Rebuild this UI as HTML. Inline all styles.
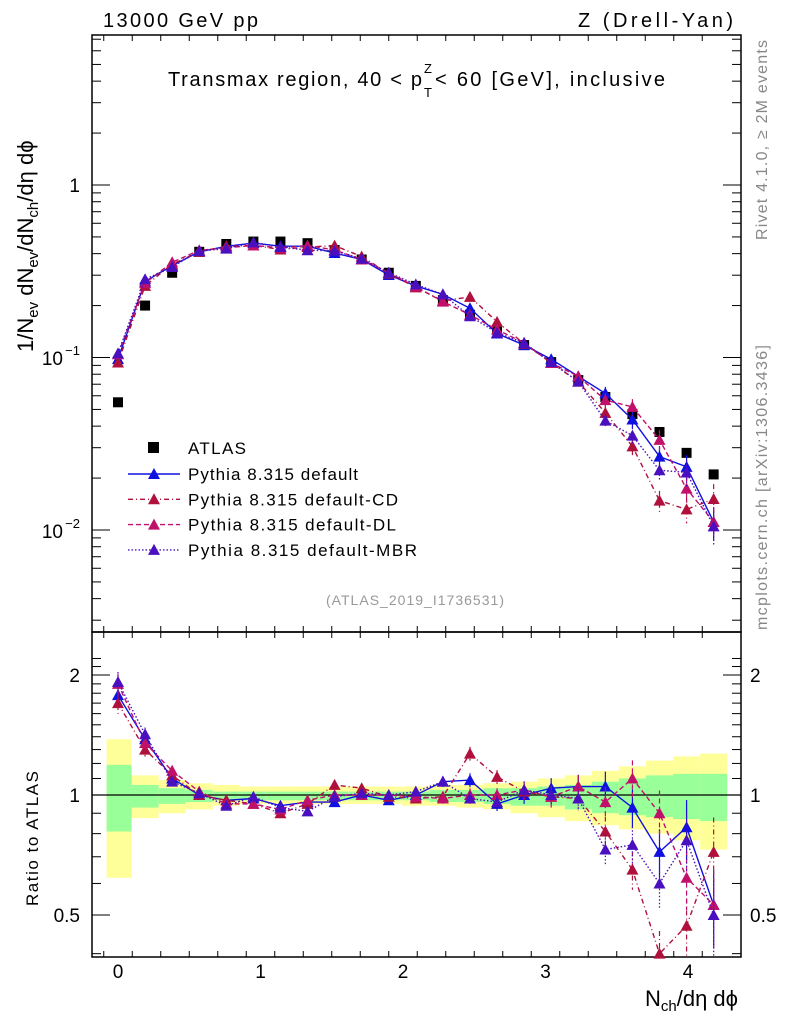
<!DOCTYPE html>
<html><head><meta charset="utf-8"><style>
body{margin:0;background:#fff;}
svg{font-family:"Liberation Sans",sans-serif;}
</style></head><body>
<svg id="c" width="786" height="1024" xmlns="http://www.w3.org/2000/svg"></svg>
<script>
const xs=[0,0.19,0.38,0.57,0.76,0.95,1.14,1.33,1.52,1.71,1.9,2.09,2.28,2.47,2.66,2.85,3.04,3.23,3.42,3.61,3.8,3.99,4.18];
const atlas=[0.055,0.20,0.31,0.41,0.455,0.47,0.47,0.46,0.42,0.37,0.31,0.26,0.215,0.177,0.145,0.118,0.094,0.074,0.059,0.047,0.037,0.028,0.021];
const rDefault=[1.78,1.38,1.1,1.0,0.97,0.98,0.94,0.96,0.96,1.0,0.97,1.0,1.08,1.09,0.95,1.0,1.04,1.05,1.05,0.93,0.72,0.83,0.53];
const rCD=[1.7,1.3,1.12,1.0,0.97,0.95,0.9,0.95,1.06,1.04,0.99,0.98,0.99,1.27,1.11,1.02,0.99,0.98,0.81,0.65,0.4,0.47,0.72];
const rDL=[1.9,1.35,1.15,1.02,0.95,0.95,0.92,0.97,1.0,1.0,1.0,0.99,0.98,1.0,1.0,1.03,0.99,1.05,0.96,1.1,0.9,0.62,0.53];
const rMBR=[1.92,1.42,1.08,1.01,0.94,0.99,0.93,0.91,0.99,1.01,1.0,1.02,1.08,0.98,0.96,1.03,1.0,0.98,0.73,0.75,0.6,0.77,0.5];
const rErr=[0.06,0.04,0.03,0.02,0.02,0.02,0.02,0.02,0.02,0.02,0.02,0.03,0.03,0.04,0.04,0.05,0.06,0.07,0.09,0.11,0.14,0.17,0.22];
const yUp=[1.38,1.12,1.09,1.07,1.06,1.05,1.05,1.05,1.05,1.05,1.05,1.05,1.06,1.06,1.07,1.08,1.1,1.12,1.15,1.18,1.22,1.25,1.27];
const yDn=[0.62,0.875,0.9,0.92,0.94,0.95,0.95,0.95,0.95,0.95,0.95,0.94,0.94,0.93,0.92,0.9,0.88,0.86,0.84,0.82,0.8,0.77,0.73];
const gUp=[1.19,1.06,1.04,1.03,1.02,1.02,1.02,1.02,1.02,1.02,1.02,1.02,1.03,1.03,1.04,1.04,1.05,1.06,1.08,1.1,1.12,1.13,1.13];
const gDn=[0.81,0.93,0.95,0.96,0.97,0.97,0.97,0.97,0.97,0.97,0.97,0.97,0.96,0.96,0.95,0.94,0.94,0.92,0.9,0.89,0.88,0.87,0.86];
const xTicks=[0,1,2,3,4];
const series=[
 {name:'Pythia 8.315 default',r:rDefault,c:'#1010e0',d:'',id:'default',w:170},
 {name:'Pythia 8.315 default-CD',r:rCD,c:'#b0103c',d:'5,3,1,3',id:'cd',w:210},
 {name:'Pythia 8.315 default-DL',r:rDL,c:'#c0106a',d:'5,3',id:'dl',w:208},
 {name:'Pythia 8.315 default-MBR',r:rMBR,c:'#4a10c0',d:'1.5,2',id:'mbr',w:229}];

const svg=document.getElementById('c');
const NS='http://www.w3.org/2000/svg';
const X=v=>118+142.5*v;
const Y=v=>185-172.5*Math.log10(v);
const R=v=>795-398.7*Math.log10(v);
const L=35,Rt=741,T=35,B=632,B2=957;
function el(t,a,p){const e=document.createElementNS(NS,t);for(const k in a)e.setAttribute(k,a[k]);(p||svg).appendChild(e);return e;}
function txt(s,x,y,a,p){const e=el('text',Object.assign({x:x,y:y},a),p);e.textContent=s;return e;}

const bandG=el('g',{});


xs.forEach((v,i)=>{
 const x0=i==0?X(-0.08):X(v-0.095), x1=i==0?X(0.095):Math.min(X(v+0.095),730);
 el('rect',{x:x0,y:R(yUp[i]),width:x1-x0,height:R(yDn[i])-R(yUp[i]),fill:'#ffff99'},bandG);
 el('rect',{x:x0,y:R(gUp[i]),width:x1-x0,height:R(gDn[i])-R(gUp[i]),fill:'#99ff99'},bandG);
});
el('line',{x1:92,x2:Rt,y1:R(1),y2:R(1),stroke:'#000','stroke-width':1.2});

const f1=el('rect',{x:92,y:T,width:Rt-92,height:B-T,fill:'none',stroke:'#000','stroke-width':1.5});

const f2=el('rect',{x:92,y:B,width:Rt-92,height:B2-B,fill:'none',stroke:'#000','stroke-width':1.5});


for(let v=-0.1;v<=4.3;v+=0.2){const x=X(Math.round(v*10)/10);if(x<93||x>740)continue;
 const maj=Math.abs(v-Math.round(v))<0.01;const h=maj?12:6;
 [[T,1],[B,-1],[B,1],[B2,-1]].forEach(([y,s])=>el('line',{x1:x,x2:x,y1:y,y2:y+s*h,stroke:'#000'}));}
xTicks.forEach(v=>{const t=txt(String(v),X(v),978,{'font-size':19,'text-anchor':'middle'});
 });
for(let d=-3;d<=0;d++)for(let m=1;m<=9;m++){const v=m*Math.pow(10,d);const y=Y(v);if(y<T||y>B)continue;
 const h=m==1?18:9;el('line',{x1:92,x2:92+h,y1:y,y2:y,stroke:'#000'});el('line',{x1:Rt,x2:Rt-h,y1:y,y2:y,stroke:'#000'});}
txt('1',80,192,{'font-size':19,'text-anchor':'end'});
txt('10',63,365,{'font-size':19,'text-anchor':'end'});txt('−1',80,355,{'font-size':13,'text-anchor':'end'});
txt('10',63,538,{'font-size':19,'text-anchor':'end'});txt('−2',80,528,{'font-size':13,'text-anchor':'end'});
for(let v=0.4;v<=2.3;v+=0.1){const r=Math.round(v*10)/10;const y=R(r);if(y<B||y>B2)continue;
 const maj=(r==0.5||r==1||r==2);const h=maj?18:9;
 el('line',{x1:92,x2:92+h,y1:y,y2:y,stroke:'#000'});el('line',{x1:Rt,x2:Rt-h,y1:y,y2:y,stroke:'#000'});}
[['2',2],['1',1],['0.5',0.5]].forEach(([s,v])=>{txt(s,80,R(v)+7,{'font-size':19,'text-anchor':'end'});txt(s,750,R(v)+7,{'font-size':19});});

const ag=el('g',{});
xs.forEach((v,i)=>{const m=el('rect',{x:X(v)-5,y:Y(atlas[i])-5,width:10,height:10,fill:'#000'},ag);
 });

function tri(x,y,c,p){return el('path',{d:`M${x},${y-6}L${x+6},${y+5}L${x-6},${y+5}Z`,fill:c},p);}
series.forEach(s=>{
 const g=el('g',{});
 const main=xs.map((v,i)=>[X(v),Y(atlas[i]*s.r[i])]);
 const rat=xs.map((v,i)=>[X(v),R(s.r[i])]);
 [main,rat].forEach(pts=>el('polyline',{points:pts.map(p=>p.join(',')).join(' '),fill:'none',stroke:s.c,'stroke-width':1.4,'stroke-dasharray':s.d},g));
 xs.forEach((v,i)=>{
  const e=rErr[i];const x=X(v);
  const y1=R(s.r[i]*(1+e)),y2=R(Math.max(0.3,s.r[i]*(1-e)));
  el('line',{x1:x,x2:x,y1:y1,y2:Math.min(y2,B2),stroke:s.c,'stroke-width':1.2,'stroke-dasharray':s.d},g);
  const m1=Y(atlas[i]*s.r[i]*(1+e)),m2=Y(atlas[i]*s.r[i]*(1-e));
  el('line',{x1:x,x2:x,y1:m1,y2:m2,stroke:s.c,'stroke-width':1.2,'stroke-dasharray':s.d},g);
  tri(x,main[i][1],s.c,g);
  if(rat[i][1]<B2)tri(x,rat[i][1],s.c,g);
 });
});

const lg=el('g',{});
el('rect',{x:148,y:442,width:11,height:11,fill:'#000'},lg);
txt('ATLAS',188,454,{'font-size':17,textLength:58},lg);
series.forEach((s,i)=>{const y=474+i*25.3;
 el('line',{x1:128,x2:180,y1:y,y2:y,stroke:s.c,'stroke-width':1.4,'stroke-dasharray':s.d},lg);
 tri(154,y,s.c,lg);
 const t=txt(s.name,188,y+6,{'font-size':17,textLength:s.w},lg);
 });

txt('13000 GeV pp',103,27,{'font-size':20,textLength:155});
txt('Z (Drell-Yan)',578,27,{'font-size':20,textLength:155});
const ti=txt('Transmax region, 40 < p',168,86,{'font-size':20,textLength:254});
txt('Z',424,73,{'font-size':13});txt('T',424,97,{'font-size':13});
txt('< 60 [GeV], inclusive',435,86,{'font-size':20,textLength:230});
txt('(ATLAS_2019_I1736531)',326,605,{'font-size':14,fill:'#999',textLength:178});
txt('Rivet 4.1.0, ≥ 2M events',767,240,{'font-size':16,fill:'#888',textLength:200,transform:'rotate(-90 767 240)'});
txt('mcplots.cern.ch [arXiv:1306.3436]',767,630,{'font-size':16,fill:'#888',textLength:285,transform:'rotate(-90 767 630)'});
const yl=el('text',{x:0,y:0,'font-size':22,transform:'translate(33 352) rotate(-90)'});

yl.innerHTML='1/N<tspan font-size="15" dy="5">ev</tspan><tspan dy="-5"> dN</tspan><tspan font-size="15" dy="5">ev</tspan><tspan dy="-5">/dN</tspan><tspan font-size="15" dy="5">ch</tspan><tspan dy="-5">/dη dϕ</tspan>';
txt('Ratio to ATLAS',38,906,{'font-size':17,textLength:135,transform:'rotate(-90 38 906)'});
const xl=el('text',{x:738,y:1006,'font-size':22,'text-anchor':'end'});

xl.innerHTML='N<tspan font-size="15" dy="5">ch</tspan><tspan dy="-5">/dη dϕ</tspan>';
</script>
</body></html>
